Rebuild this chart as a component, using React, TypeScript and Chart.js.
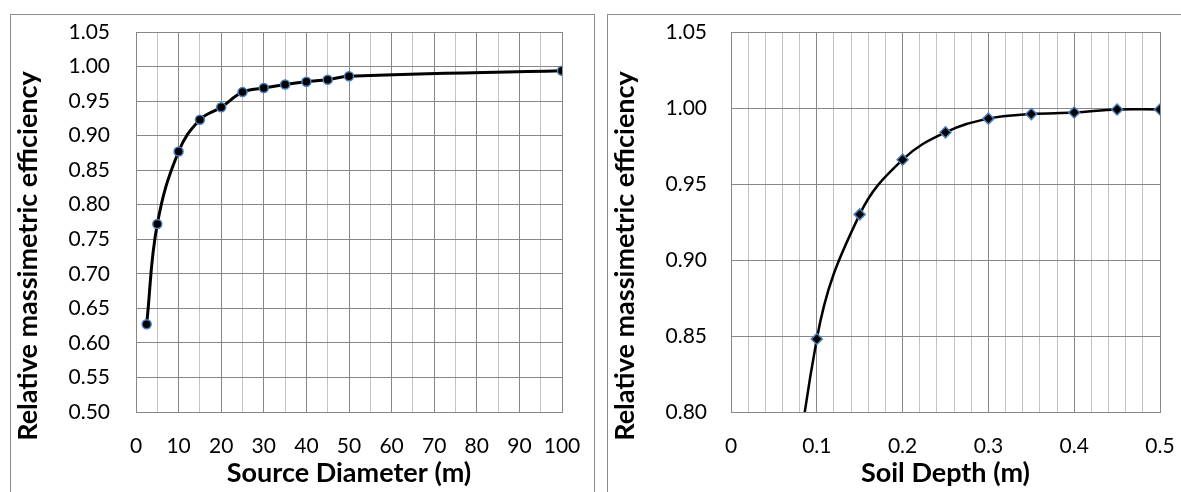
import React, { useEffect, useRef } from "react";
import { Chart, registerables } from "chart.js";

Chart.register(...registerables);

// ---- Data ----
const diameterX = [2.5, 5, 10, 15, 20, 25, 30, 35, 40, 45, 50, 100];
const diameterEff = [0.627, 0.772, 0.877, 0.923, 0.941, 0.963, 0.969, 0.974, 0.978, 0.981, 0.986, 0.994];

const depthX = [0.05, 0.1, 0.15, 0.2, 0.25, 0.3, 0.35, 0.4, 0.45, 0.5];
const depthEff = [0.62, 0.848, 0.93, 0.966, 0.984, 0.993, 0.996, 0.997, 0.999, 0.999];

const yTitle = "Relative massimetric efficiency";
const leftXTitle = "Source Diameter (m)";
const rightXTitle = "Soil Depth (m)";

const MAJOR = "#878787";
const MINOR = "#c2c2c2";
const CLEAR = "rgba(0,0,0,0)";
const TICK_FONT = { family: "Lato", size: 21 };
const TITLE_FONT_CSS = "bold 27px Lato";

function isMultiple(v: number, step: number) {
  const r = v / step;
  return Math.abs(r - Math.round(r)) < 1e-6;
}

type PanelCfg = {
  xs: number[];
  ys: number[];
  xMin: number;
  xMax: number;
  xStep: number;
  xMajor: number;
  yMin: number;
  yMax: number;
  yStep: number;
  xTitle: string;
  pointStyle: string;
  pointRadius: number;
  lineWidth: number;
  padRight: number;
  yWidth: number;
  yTickPad: number;
  fmtX: (v: number) => string;
};

// Axis titles drawn on the canvas (positioned like the reference, where the
// y title is centred on the whole axis extent rather than the plot area).
const axisTitlePlugin = {
  id: "axisTitles",
  afterDraw(chart: any, _args: any, opts: any) {
    const { ctx, chartArea } = chart;
    ctx.save();
    ctx.font = TITLE_FONT_CSS;
    ctx.fillStyle = "#000";
    ctx.textAlign = "center";
    ctx.textBaseline = "alphabetic";
    ctx.fillText(opts.xTitle, (chartArea.left + chartArea.right) / 2, opts.xBaseline);
    ctx.translate(opts.yBaseline, opts.yCenter);
    ctx.rotate(-Math.PI / 2);
    ctx.fillText(opts.yTitle, 0, 0);
    ctx.restore();
  },
};

function Panel({ cfg, width, height }: { cfg: PanelCfg; width: number; height: number }) {
  const ref = useRef<HTMLCanvasElement | null>(null);
  useEffect(() => {
    if (!ref.current) return;
    const chart = new Chart(ref.current, {
      type: "line",
      data: {
        datasets: [
          {
            data: cfg.xs.map((x, i) => ({ x, y: cfg.ys[i] })),
            borderColor: "#000000",
            borderWidth: cfg.lineWidth,
            tension: 0.4,
            pointStyle: cfg.pointStyle as any,
            pointRadius: cfg.pointRadius,
            pointBackgroundColor: "#000000",
            pointBorderColor: "#4a7ebb",
            pointBorderWidth: 1.5,
            fill: false,
          },
        ],
      },
      plugins: [axisTitlePlugin as any],
      options: {
        animation: false,
        responsive: false,
        maintainAspectRatio: false,
        layout: { padding: { left: 0, top: 17, right: cfg.padRight, bottom: 0 } },
        plugins: {
          legend: { display: false },
          tooltip: { enabled: false },
          axisTitles: {
            xTitle: cfg.xTitle,
            yTitle: yTitle,
            xBaseline: 467,
            yBaseline: 26,
            yCenter: 241,
          },
        } as any,
        scales: {
          x: {
            type: "linear",
            min: cfg.xMin,
            max: cfg.xMax,
            afterFit: (s: any) => {
              s.height = 80;
            },
            ticks: {
              stepSize: cfg.xStep,
              autoSkip: false,
              maxRotation: 0,
              padding: 0,
              color: "#000",
              font: TICK_FONT,
              callback: (v: any) => (isMultiple(Number(v), cfg.xMajor) ? cfg.fmtX(Number(v)) : ""),
            },
            grid: {
              drawTicks: true,
              tickLength: 22,
              tickColor: CLEAR,
              lineWidth: 1,
              color: (ctx: any) =>
                ctx.tick && isMultiple(ctx.tick.value, cfg.xMajor) ? MAJOR : MINOR,
            },
            border: { display: true, color: MAJOR, width: 1 },
            title: { display: false },
          },
          y: {
            type: "linear",
            min: cfg.yMin,
            max: cfg.yMax,
            afterFit: (s: any) => {
              s.width = cfg.yWidth;
            },
            ticks: {
              stepSize: cfg.yStep,
              padding: 0,
              color: "#000",
              font: TICK_FONT,
              callback: (v: any) => Number(v).toFixed(2),
            },
            grid: {
              drawTicks: true,
              tickLength: cfg.yTickPad,
              tickColor: CLEAR,
              color: MAJOR,
              lineWidth: 1,
            },
            border: { display: true, color: MAJOR, width: 1 },
            title: { display: false },
          },
        },
      },
    });
    return () => chart.destroy();
  }, []);
  return <canvas ref={ref} width={width} height={height} style={{ display: "block", width, height }} />;
}

const leftCfg: PanelCfg = {
  xs: diameterX,
  ys: diameterEff,
  xMin: 0,
  xMax: 100,
  xStep: 5,
  xMajor: 10,
  yMin: 0.5,
  yMax: 1.05,
  yStep: 0.05,
  xTitle: leftXTitle,
  pointStyle: "circle",
  pointRadius: 4.5,
  lineWidth: 3,
  padRight: 32,
  yWidth: 125,
  yTickPad: 26,
  fmtX: (v) => String(Math.round(v)),
};

const rightCfg: PanelCfg = {
  xs: depthX,
  ys: depthEff,
  xMin: 0,
  xMax: 0.5,
  xStep: 0.02,
  xMajor: 0.1,
  yMin: 0.8,
  yMax: 1.05,
  yStep: 0.05,
  xTitle: rightXTitle,
  pointStyle: "rectRot",
  pointRadius: 5.5,
  lineWidth: 2.5,
  padRight: 28,
  yWidth: 123,
  yTickPad: 24,
  fmtX: (v) => String(Math.round(v * 10) / 10),
};

export default function App() {
  return (
    <div style={{ position: "fixed", left: 0, top: 0, width: 1181, height: 492, overflow: "hidden", background: "#fff" }}>
      <div style={{ position: "absolute", left: 10, top: 14, width: 583, height: 490, border: "1px solid #8c8c8c" }}>
        <Panel cfg={leftCfg} width={583} height={477} />
      </div>
      <div style={{ position: "absolute", left: 607, top: 14, width: 590, height: 490, border: "1px solid #8c8c8c" }}>
        <Panel cfg={rightCfg} width={580} height={477} />
      </div>
    </div>
  );
}
